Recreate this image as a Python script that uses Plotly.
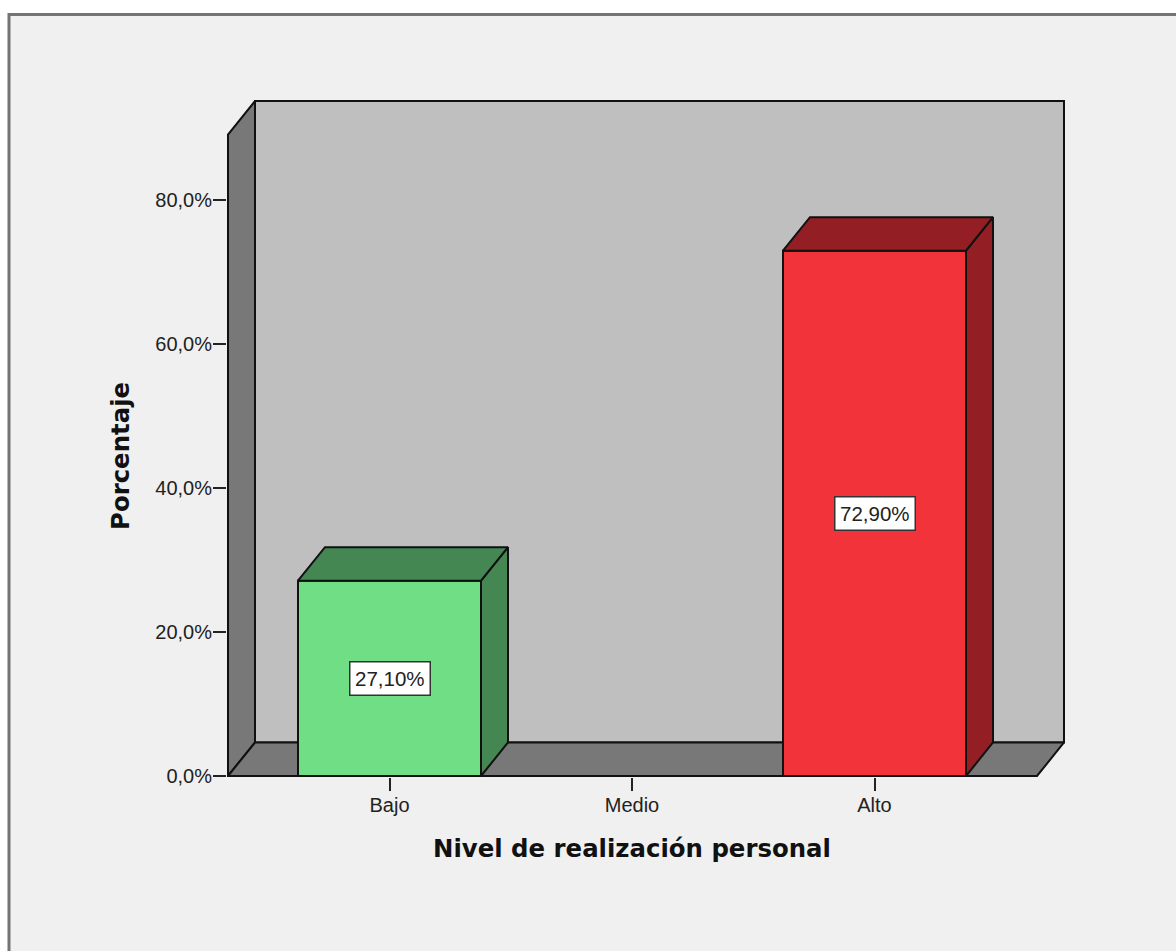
import plotly.graph_objects as go

# Chart data
categories = ["Bajo", "Medio", "Alto"]
percentages = [27.1, None, 72.9]
y_ticks = [0, 20, 40, 60, 80]
y_tick_labels = ["0,0%", "20,0%", "40,0%", "60,0%", "80,0%"]
front_colors = ["#70DE85", None, "#F2333A"]
shade_colors = ["#458753", None, "#931F24"]
x_title = "Nivel de realización personal"
y_title = "Porcentaje"

# Canvas and plot geometry (pixels)
WIDTH, HEIGHT = 1176, 951
PLOT_LEFT, PLOT_RIGHT, PLOT_TOP, PLOT_BOTTOM = 227, 1065, 100, 777
PX_PER_CATEGORY = 242.5
PX_PER_PERCENT = 7.206
X0_PX = 389.5
Y0_PX = 776

# Axis ranges follow from the geometry above
x_range = [(PLOT_LEFT - X0_PX) / PX_PER_CATEGORY, (PLOT_RIGHT - X0_PX) / PX_PER_CATEGORY]
y_range = [(Y0_PX - PLOT_BOTTOM) / PX_PER_PERCENT, (Y0_PX - PLOT_TOP) / PX_PER_PERCENT]

# Oblique depth of the 3D box, in axis units
DEPTH_X = 27 / PX_PER_CATEGORY
DEPTH_Y = 33.5 / PX_PER_PERCENT
BAR_WIDTH = 183 / PX_PER_CATEGORY

x_left = (228 - X0_PX) / PX_PER_CATEGORY
x_right = (1064 - X0_PX) / PX_PER_CATEGORY
y_top = (Y0_PX - 101) / PX_PER_PERCENT


def polygon_path(points):
    return "M " + " L ".join(f"{x},{y}" for x, y in points) + " Z"


def wall(points, color):
    return dict(
        type="path", xref="x", yref="y", layer="below", path=polygon_path(points),
        fillcolor=color, line=dict(color="#111111", width=2),
    )


def paper_x(px):
    return (px - PLOT_LEFT) / (PLOT_RIGHT - PLOT_LEFT)


def paper_y(px):
    return (PLOT_BOTTOM - px) / (PLOT_BOTTOM - PLOT_TOP)


shapes = [
    # Outer chart frame, open on the right and bottom edges of the page
    dict(
        type="path", xref="paper", yref="paper", layer="below",
        path=polygon_path([
            (paper_x(9), paper_y(HEIGHT + 5)), (paper_x(9), paper_y(14.5)),
            (paper_x(WIDTH + 5), paper_y(14.5)), (paper_x(WIDTH + 5), paper_y(HEIGHT + 5)),
        ]),
        fillcolor="#F0F0F0", line=dict(color="#747474", width=3),
    ),
    # Left wall, back wall and floor of the box
    wall([(x_left, 0), (x_left, y_top - DEPTH_Y), (x_left + DEPTH_X, y_top), (x_left + DEPTH_X, DEPTH_Y)], "#787878"),
    wall([(x_left + DEPTH_X, DEPTH_Y), (x_left + DEPTH_X, y_top), (x_right, y_top), (x_right, DEPTH_Y)], "#BFBFBF"),
    wall([(x_left, 0), (x_left + DEPTH_X, DEPTH_Y), (x_right, DEPTH_Y), (x_right - DEPTH_X, 0)], "#787878"),
]

fig = go.Figure()

# Front faces of the bars
fig.add_trace(go.Bar(
    x=list(range(len(categories))), y=percentages, width=BAR_WIDTH,
    marker=dict(color=[c or "rgba(0,0,0,0)" for c in front_colors], line=dict(color="#111111", width=2)),
    showlegend=False, hoverinfo="skip",
))

annotations = []
for i, value in enumerate(percentages):
    if value is None:
        continue
    xa, xb = i - BAR_WIDTH / 2, i + BAR_WIDTH / 2
    # Right side face of the bar
    side_x = [xb, xb + DEPTH_X, xb + DEPTH_X, xb, xb]
    side_y = [0, DEPTH_Y, value + DEPTH_Y, value, 0]
    # Top face of the bar
    top_x = [xa, xa + DEPTH_X, xb + DEPTH_X, xb, xa]
    top_y = [value, value + DEPTH_Y, value + DEPTH_Y, value, value]
    for xs, ys in ((side_x, side_y), (top_x, top_y)):
        fig.add_trace(go.Scatter(
            x=xs, y=ys, mode="lines", fill="toself", fillcolor=shade_colors[i],
            line=dict(color="#111111", width=2), showlegend=False, hoverinfo="skip",
        ))
    # Value label in the middle of the bar
    annotations.append(dict(
        x=i, y=value / 2, xref="x", yref="y", showarrow=False,
        text=f"{value:.2f}%".replace(".", ","),
        font=dict(family="Liberation Sans", size=20.5, color="#222222"),
        bgcolor="#FFFFFF", bordercolor="#333333", borderwidth=1.5, borderpad=4.5,
    ))

# Axis titles, centred on the floor of the box and on the left wall
title_font = dict(family="DejaVu Sans", size=24.4, color="#111111", weight="bold")
annotations.append(dict(
    x=paper_x(632), y=paper_y(848), xref="paper", yref="paper", showarrow=False,
    xanchor="center", yanchor="middle", text=x_title, font=title_font,
))
annotations.append(dict(
    x=paper_x(121), y=paper_y(456), xref="paper", yref="paper", showarrow=False,
    xanchor="center", yanchor="middle", text=y_title, font=title_font, textangle=-90,
))

fig.update_layout(
    width=WIDTH, height=HEIGHT, autosize=False,
    margin=dict(l=PLOT_LEFT, r=WIDTH - PLOT_RIGHT, t=PLOT_TOP, b=HEIGHT - PLOT_BOTTOM, pad=0),
    paper_bgcolor="#FFFFFF", plot_bgcolor="rgba(0,0,0,0)",
    shapes=shapes, annotations=annotations, showlegend=False,
    xaxis=dict(
        range=x_range, tickmode="array", tickvals=list(range(len(categories))), ticktext=categories,
        showgrid=False, zeroline=False, showline=False,
        ticks="outside", ticklen=13, tickwidth=2, tickcolor="#222222", ticklabelstandoff=-3,
        tickfont=dict(family="Liberation Sans", size=20, color="#222222"),
    ),
    yaxis=dict(
        range=y_range, tickmode="array", tickvals=y_ticks, ticktext=y_tick_labels,
        showgrid=False, zeroline=False, showline=False,
        ticks="outside", ticklen=13, tickwidth=2, tickcolor="#222222", ticklabelstandoff=-3,
        tickfont=dict(family="Liberation Sans", size=20, color="#222222"),
    ),
)

fig.write_html("out.html", config=dict(displayModeBar=False))
